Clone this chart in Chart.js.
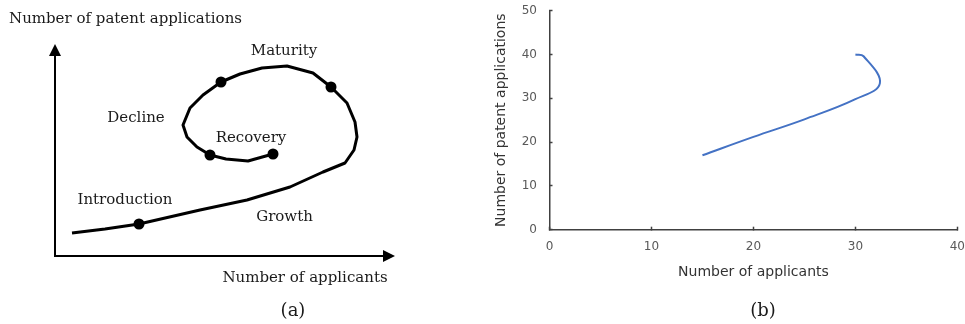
<!DOCTYPE html>
<html>
<head>
<meta charset="utf-8">
<script src="https://cdn.jsdelivr.net/npm/chart.js@4"></script>
<style>
    html, body { margin: 0; padding: 0; background: #fff; }
    #wrap { position: relative; width: 965px; height: 324px; overflow: hidden; }
    #schemeBox { position: absolute; left: 0; top: 0; width: 480px; height: 324px; }
    /* canvas pushed up/right so the tick padding Chart.js reserves falls outside the picture */
    #plotBox { position: absolute; left: 480px; top: -12px; width: 498px; height: 336px; }
</style>
</head>
<body>
<div id="wrap">
    <div id="schemeBox"><canvas id="schemeChart"></canvas></div>
    <div id="plotBox"><canvas id="plotChart"></canvas></div>
</div>
<script>
// (a) schematic curve, in drawing units (origin = axis corner)
const schemeX = [17, 50, 84, 145, 192, 235, 268, 290, 299, 302, 300, 292, 276, 258, 232, 207, 185, 166, 148, 135, 128, 132, 142, 155, 171, 193, 218];
const schemeY = [23, 27, 32, 46, 56, 69, 84, 93, 106, 119, 134, 153, 169, 183, 190, 188, 182, 174, 161, 148, 131, 119, 109, 101, 97, 95, 102];
const stageDotX = [84, 276, 166, 155, 218];
const stageDotY = [32, 169, 174, 101, 102];
const stageNames = ['Maturity', 'Decline', 'Recovery', 'Introduction', 'Growth'];

// (b) measured curve
const applicants = [15, 20, 25, 30, 32.4, 30.8, 30];
const patentApps = [17, 21.2, 25.2, 29.8, 33.4, 39.6, 40];
const xTicks = [0, 10, 20, 30, 40];
const yTicks = [0, 10, 20, 30, 40, 50];

const xTitle = 'Number of applicants';
const yTitle = 'Number of patent applications';

const SERIF = '"DejaVu Serif", serif';
const SANS = '"DejaVu Sans", sans-serif';

// where the schematic labels sit (drawing units, alphabetic baseline)
const stageLabelPos = {
    'Maturity': [229, 201],
    'Decline': [81, 134],
    'Recovery': [196, 114],
    'Introduction': [70, 52],
    'Growth': [229.5, 35]
};

function toPoints(xs, ys) {
    var pts = [];
    for (let i = 0; i < xs.length; i++) {
        pts.push({ x: xs[i], y: ys[i] });
    }
    return pts;
}

const schemeDecor = {
    id: 'schemeDecor',
    afterDatasetsDraw(chart) {
        const ctx = chart.ctx;
        const sx = chart.scales.x, sy = chart.scales.y;
        const px = v => sx.getPixelForValue(v);
        const py = v => sy.getPixelForValue(v);
        ctx.save();
        // axes with arrows
        ctx.strokeStyle = '#000';
        ctx.fillStyle = '#000';
        ctx.lineWidth = 2;
        ctx.beginPath();
        ctx.moveTo(px(0), py(202));
        ctx.lineTo(px(0), py(0));
        ctx.lineTo(px(330), py(0));
        ctx.stroke();
        ctx.beginPath();
        ctx.moveTo(px(0), py(212));
        ctx.lineTo(px(0) - 6, py(200));
        ctx.lineTo(px(0) + 6, py(200));
        ctx.closePath();
        ctx.fill();
        ctx.beginPath();
        ctx.moveTo(px(340), py(0));
        ctx.lineTo(px(328), py(0) - 6);
        ctx.lineTo(px(328), py(0) + 6);
        ctx.closePath();
        ctx.fill();

        // texts
        ctx.fillStyle = '#1a1a1a';
        ctx.font = '15px ' + SERIF;
        ctx.textBaseline = 'alphabetic';
        ctx.textAlign = 'left';
        ctx.fillText(yTitle, px(-46), py(233));
        ctx.textAlign = 'center';
        stageNames.forEach(function (name) {
            const p = stageLabelPos[name];
            ctx.fillText(name, px(p[0]), py(p[1]));
        });
        ctx.fillText(xTitle, px(250), py(-26));
        ctx.font = '18px ' + SERIF;
        ctx.fillText('(a)', px(238), py(-60));
        ctx.restore();
    }
};

const plotCaption = {
    id: 'plotCaption',
    afterDraw(chart) {
        const ctx = chart.ctx;
        ctx.save();
        ctx.fillStyle = '#1a1a1a';
        ctx.font = '18px ' + SERIF;
        ctx.textAlign = 'center';
        ctx.textBaseline = 'alphabetic';
        ctx.fillText('(b)', 283, 328);
        ctx.restore();
    }
};

var chartScheme = new Chart(document.getElementById('schemeChart'), {
    type: 'scatter',
    data: {
        datasets: [
            {
                data: toPoints(stageDotX, stageDotY),
                showLine: false,
                pointRadius: 5.5,
                pointHoverRadius: 5.5,
                pointBackgroundColor: '#000',
                pointBorderWidth: 0
            },
            {
                data: toPoints(schemeX, schemeY),
                showLine: true,
                borderColor: '#000',
                borderWidth: 3,
                borderJoinStyle: 'round',
                pointRadius: 0,
                tension: 0
            }
        ]
    },
    options: {
        animation: false,
        responsive: true,
        maintainAspectRatio: false,
        layout: { padding: 0, autoPadding: false },
        plugins: { legend: { display: false }, tooltip: { enabled: false } },
        scales: {
            x: { type: 'linear', display: false, min: -55, max: 425 },
            y: { type: 'linear', display: false, min: -68, max: 256 }
        }
    },
    plugins: [schemeDecor]
});

var chartPlot = new Chart(document.getElementById('plotChart'), {
    type: 'scatter',
    data: {
        datasets: [
            {
                data: toPoints(applicants, patentApps),
                showLine: true,
                borderColor: '#4472C4',
                borderWidth: 2,
                pointRadius: 0,
                tension: 0.4
            }
        ]
    },
    options: {
        animation: false,
        responsive: true,
        maintainAspectRatio: false,
        layout: { padding: 0, autoPadding: false },
        plugins: { legend: { display: false }, tooltip: { enabled: false } },
        scales: {
            x: {
                type: 'linear',
                min: 0,
                max: 40,
                afterBuildTicks: s => { s.ticks = xTicks.map(v => ({ value: v })); },
                afterFit: s => { s.height = 94.3; },
                ticks: { color: '#595959', font: { family: SANS, size: 12 }, padding: 13, maxRotation: 0 },
                grid: { drawOnChartArea: false, tickLength: -3, tickColor: '#404040', tickWidth: 1.5 },
                border: { color: '#404040', width: 1.5 },
                title: { display: true, text: xTitle, color: '#333', font: { family: SANS, size: 14 }, padding: { top: 0, bottom: 43 } }
            },
            y: {
                type: 'linear',
                min: 0,
                max: 50,
                afterBuildTicks: s => { s.ticks = yTicks.map(v => ({ value: v })); },
                afterFit: s => { s.width = 69.5; },
                ticks: { color: '#595959', font: { family: SANS, size: 12 }, padding: 15.5 },
                grid: { drawOnChartArea: false, tickLength: -3, tickColor: '#404040', tickWidth: 1.5 },
                border: { color: '#404040', width: 1.5 },
                title: { display: true, text: yTitle, color: '#333', font: { family: SANS, size: 14 }, padding: { top: 13.3, bottom: 0 } }
            }
        }
    },
    plugins: [plotCaption]
});
</script>
</body>
</html>
